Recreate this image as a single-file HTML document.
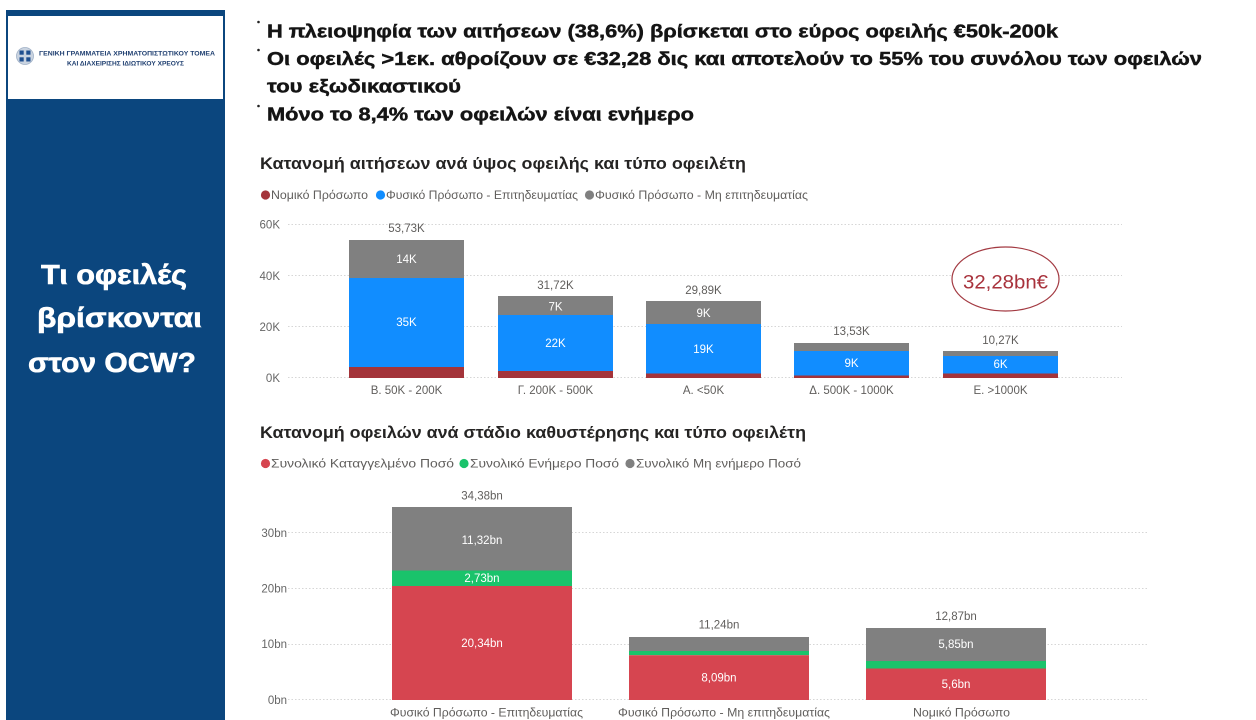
<!DOCTYPE html>
<html>
<head>
<meta charset="utf-8">
<style>
  html,body{margin:0;padding:0;background:#fff;}
  body{width:1256px;height:720px;overflow:hidden;}
  svg{display:block;font-family:"Liberation Sans","DejaVu Sans",sans-serif;}
</style>
</head>
<body>
<svg width="1256" height="720" viewBox="0 0 1256 720" xmlns="http://www.w3.org/2000/svg">
  <rect x="0" y="0" width="1256" height="720" fill="#ffffff"/>

  <!-- Sidebar -->
  <rect x="6" y="10" width="219" height="710" fill="#0b467e"/>
  <rect x="8" y="16" width="215" height="83" fill="#ffffff"/>
  <!-- emblem -->
  <circle cx="25" cy="56" r="8.5" fill="#c9d3e0" stroke="#9fb0c6" stroke-width="0.8"/>
  <rect x="19.5" y="50.5" width="4.2" height="4.2" fill="#1f4f8f"/>
  <rect x="26.3" y="50.5" width="4.2" height="4.2" fill="#1f4f8f"/>
  <rect x="19.5" y="57.3" width="4.2" height="4.2" fill="#1f4f8f"/>
  <rect x="26.3" y="57.3" width="4.2" height="4.2" fill="#1f4f8f"/>
  <text x="39" y="55.5" font-size="6.6" font-weight="bold" fill="#1f3f70" textLength="176" lengthAdjust="spacingAndGlyphs">ΓΕΝΙΚΗ ΓΡΑΜΜΑΤΕΙΑ ΧΡΗΜΑΤΟΠΙΣΤΩΤΙΚΟΥ ΤΟΜΕΑ</text>
  <text x="67" y="65.5" font-size="6.6" font-weight="bold" fill="#1f3f70" textLength="117" lengthAdjust="spacingAndGlyphs">ΚΑΙ ΔΙΑΧΕΙΡΙΣΗΣ ΙΔΙΩΤΙΚΟΥ ΧΡΕΟΥΣ</text>

  <g font-size="28" font-weight="bold" fill="#ffffff" stroke="#ffffff" stroke-width="0.6">
    <text x="41" y="284" textLength="146" lengthAdjust="spacingAndGlyphs">Τι οφειλές</text>
    <text x="37" y="327" textLength="165" lengthAdjust="spacingAndGlyphs">βρίσκονται</text>
    <text x="28" y="372" textLength="168" lengthAdjust="spacingAndGlyphs">στον OCW?</text>
  </g>

  <!-- Headline bullets -->
  <circle cx="258.5" cy="22" r="1.3" fill="#222"/>
  <circle cx="258.5" cy="50" r="1.3" fill="#222"/>
  <circle cx="258.5" cy="106" r="1.3" fill="#222"/>
  <g font-size="18.5" font-weight="bold" fill="#141414" stroke="#141414" stroke-width="0.45">
    <text x="267" y="37.5" textLength="791" lengthAdjust="spacingAndGlyphs">Η πλειοψηφία των αιτήσεων (38,6%) βρίσκεται στο εύρος οφειλής €50k-200k</text>
    <text x="267" y="65" textLength="935" lengthAdjust="spacingAndGlyphs">Οι οφειλές &gt;1εκ. αθροίζουν σε €32,28 δις και αποτελούν το 55% του συνόλου των οφειλών</text>
    <text x="267" y="92.5" textLength="194" lengthAdjust="spacingAndGlyphs">του εξωδικαστικού</text>
    <text x="267" y="120.5" textLength="427" lengthAdjust="spacingAndGlyphs">Μόνο το 8,4% των οφειλών είναι ενήμερο</text>
  </g>

  <!-- ===== Top chart ===== -->
  <text x="260" y="169" font-size="16.5" font-weight="bold" fill="#252423" textLength="486" lengthAdjust="spacingAndGlyphs">Κατανομή αιτήσεων ανά ύψος οφειλής και τύπο οφειλέτη</text>
  <circle cx="265.5" cy="195" r="4.6" fill="#a4343a"/>
  <text x="271" y="199" font-size="12" fill="#605e5c" textLength="97" lengthAdjust="spacingAndGlyphs">Νομικό Πρόσωπο</text>
  <circle cx="380.5" cy="195" r="4.6" fill="#118dff"/>
  <text x="386" y="199" font-size="12" fill="#605e5c" textLength="192" lengthAdjust="spacingAndGlyphs">Φυσικό Πρόσωπο - Επιτηδευματίας</text>
  <circle cx="589.5" cy="195" r="4.6" fill="#808080"/>
  <text x="595" y="199" font-size="12" fill="#605e5c" textLength="213" lengthAdjust="spacingAndGlyphs">Φυσικό Πρόσωπο - Μη επιτηδευματίας</text>

  <g stroke="#d6d6d6" stroke-width="1" stroke-dasharray="1.5 2">
    <line x1="288" y1="224.5" x2="1122" y2="224.5"/>
    <line x1="288" y1="275.5" x2="1122" y2="275.5"/>
    <line x1="288" y1="326.5" x2="1122" y2="326.5"/>
    <line x1="288" y1="377.5" x2="1122" y2="377.5"/>
  </g>
  <g font-size="11.5" fill="#666" text-anchor="end">
    <text x="280" y="228.5">60K</text>
    <text x="280" y="280">40K</text>
    <text x="280" y="331">20K</text>
    <text x="280" y="382">0K</text>
  </g>

  <!-- bars -->
  <rect x="349" y="240" width="115" height="38" fill="#808080"/>
  <rect x="349" y="278" width="115" height="89" fill="#118dff"/>
  <rect x="349" y="367" width="115" height="11" fill="#a4343a"/>

  <rect x="498" y="296" width="115" height="19" fill="#808080"/>
  <rect x="498" y="315" width="115" height="56" fill="#118dff"/>
  <rect x="498" y="371" width="115" height="7" fill="#a4343a"/>

  <rect x="646" y="301" width="115" height="23" fill="#808080"/>
  <rect x="646" y="324" width="115" height="49.5" fill="#118dff"/>
  <rect x="646" y="373.5" width="115" height="4.5" fill="#a4343a"/>

  <rect x="794" y="343" width="115" height="8" fill="#808080"/>
  <rect x="794" y="351" width="115" height="24.5" fill="#118dff"/>
  <rect x="794" y="375.5" width="115" height="2.5" fill="#a4343a"/>

  <rect x="943" y="351" width="115" height="5" fill="#808080"/>
  <rect x="943" y="356" width="115" height="17.5" fill="#118dff"/>
  <rect x="943" y="373.5" width="115" height="4.5" fill="#a4343a"/>

  <g font-size="11.5" fill="#605e5c" text-anchor="middle">
    <text x="406.5" y="232">53,73K</text>
    <text x="555.5" y="289">31,72K</text>
    <text x="703.5" y="294">29,89K</text>
    <text x="851.5" y="335">13,53K</text>
    <text x="1000.5" y="344">10,27K</text>
  </g>
  <g font-size="11.5" fill="#ffffff" text-anchor="middle">
    <text x="406.5" y="263">14K</text>
    <text x="406.5" y="326">35K</text>
    <text x="555.5" y="310.5">7K</text>
    <text x="555.5" y="347">22K</text>
    <text x="703.5" y="317">9K</text>
    <text x="703.5" y="353">19K</text>
    <text x="851.5" y="367">9K</text>
    <text x="1000.5" y="368">6K</text>
  </g>
  <g font-size="11.5" fill="#605e5c" text-anchor="middle">
    <text x="406.5" y="394">Β. 50K - 200K</text>
    <text x="555.5" y="394">Γ. 200K - 500K</text>
    <text x="703.5" y="394">Α. &lt;50K</text>
    <text x="851.5" y="394">Δ. 500K - 1000K</text>
    <text x="1000.5" y="394">Ε. &gt;1000K</text>
  </g>

  <!-- ellipse callout -->
  <ellipse cx="1005.5" cy="279" rx="53.5" ry="32" fill="#ffffff" stroke="#a33a42" stroke-width="1.2"/>
  <text x="1005.5" y="288.5" font-size="19.5" fill="#a8323c" text-anchor="middle" textLength="85" lengthAdjust="spacingAndGlyphs">32,28bn€</text>

  <!-- ===== Bottom chart ===== -->
  <text x="260" y="438" font-size="16.5" font-weight="bold" fill="#252423" textLength="546" lengthAdjust="spacingAndGlyphs">Κατανομή οφειλών ανά στάδιο καθυστέρησης και τύπο οφειλέτη</text>
  <circle cx="265.5" cy="463.5" r="4.6" fill="#d64550"/>
  <text x="271" y="467.5" font-size="12" fill="#605e5c" textLength="183" lengthAdjust="spacingAndGlyphs">Συνολικό Καταγγελμένο Ποσό</text>
  <circle cx="464" cy="463.5" r="4.6" fill="#1ac36b"/>
  <text x="470" y="467.5" font-size="12" fill="#605e5c" textLength="149" lengthAdjust="spacingAndGlyphs">Συνολικό Ενήμερο Ποσό</text>
  <circle cx="630" cy="463.5" r="4.6" fill="#808080"/>
  <text x="636" y="467.5" font-size="12" fill="#605e5c" textLength="165" lengthAdjust="spacingAndGlyphs">Συνολικό Μη ενήμερο Ποσό</text>

  <g stroke="#d6d6d6" stroke-width="1" stroke-dasharray="1.5 2">
    <line x1="288" y1="532.5" x2="1148" y2="532.5"/>
    <line x1="288" y1="588.5" x2="1148" y2="588.5"/>
    <line x1="288" y1="644.5" x2="1148" y2="644.5"/>
    <line x1="288" y1="699.5" x2="1148" y2="699.5"/>
  </g>
  <g font-size="11.5" fill="#666" text-anchor="end">
    <text x="287" y="537">30bn</text>
    <text x="287" y="592.5">20bn</text>
    <text x="287" y="648">10bn</text>
    <text x="287" y="704">0bn</text>
  </g>

  <rect x="392" y="507" width="180" height="63.5" fill="#808080"/>
  <rect x="392" y="570.5" width="180" height="15.5" fill="#1ac36b"/>
  <rect x="392" y="586" width="180" height="114" fill="#d64550"/>

  <rect x="629" y="637" width="180" height="14" fill="#808080"/>
  <rect x="629" y="651" width="180" height="4.2" fill="#1ac36b"/>
  <rect x="629" y="655.2" width="180" height="44.8" fill="#d64550"/>

  <rect x="866" y="628" width="180" height="33" fill="#808080"/>
  <rect x="866" y="661" width="180" height="7.5" fill="#1ac36b"/>
  <rect x="866" y="668.5" width="180" height="31.5" fill="#d64550"/>

  <g font-size="11.5" fill="#605e5c" text-anchor="middle">
    <text x="482" y="499.5">34,38bn</text>
    <text x="719" y="628.5">11,24bn</text>
    <text x="956" y="620">12,87bn</text>
  </g>
  <g font-size="11.5" fill="#ffffff" text-anchor="middle">
    <text x="482" y="544">11,32bn</text>
    <text x="482" y="582">2,73bn</text>
    <text x="482" y="647">20,34bn</text>
    <text x="719" y="681.5">8,09bn</text>
    <text x="956" y="648">5,85bn</text>
    <text x="956" y="688">5,6bn</text>
  </g>
  <g font-size="11.5" fill="#605e5c">
    <text x="390" y="716.5" textLength="193" lengthAdjust="spacingAndGlyphs">Φυσικό Πρόσωπο - Επιτηδευματίας</text>
    <text x="618" y="716.5" textLength="212" lengthAdjust="spacingAndGlyphs">Φυσικό Πρόσωπο - Μη επιτηδευματίας</text>
    <text x="913" y="716.5" textLength="97" lengthAdjust="spacingAndGlyphs">Νομικό Πρόσωπο</text>
  </g>
</svg>
</body>
</html>
